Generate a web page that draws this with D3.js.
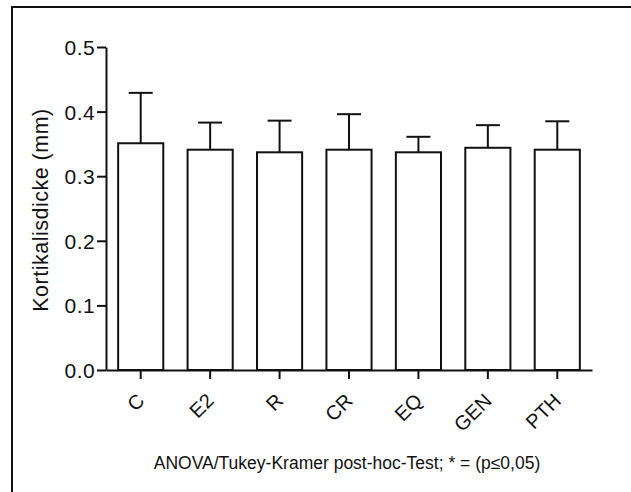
<!DOCTYPE html>
<html>
<head>
<meta charset="utf-8">
<script src="https://cdn.jsdelivr.net/npm/d3@7"></script>
<style>
  body { margin: 0; background: #fff; }
  text { font-family: "Liberation Sans", Arial, sans-serif; fill: #111; }
</style>
</head>
<body>
<div id="canvas"></div>
<script>
const canvWidth = 631, canvHeight = 492;

// data
const groups = ["C", "E2", "R", "CR", "EQ", "GEN", "PTH"];
const means = [0.351, 0.341, 0.337, 0.341, 0.337, 0.344, 0.341];
const errTops = [0.429, 0.383, 0.386, 0.396, 0.361, 0.379, 0.385];
const yTicks = [0.0, 0.1, 0.2, 0.3, 0.4, 0.5];

const yTitle = "Kortikalisdicke (mm)";
const footNote = "ANOVA/Tukey-Kramer post-hoc-Test; * = (p\u22640,05)";

const svg = d3.select("#canvas").append("svg")
    .attr("width", canvWidth)
    .attr("height", canvHeight);

// outer frame (runs off the right and bottom edges)
svg.append("rect")
    .attr("x", 12).attr("y", 7)
    .attr("width", 640).attr("height", 500)
    .attr("fill", "none")
    .attr("stroke", "#111")
    .attr("stroke-width", 2);

const margin = {top: 47, right: 39, bottom: 122, left: 106};
const width = canvWidth - margin.left - margin.right;
const height = canvHeight - margin.top - margin.bottom;

const g = svg.append("g")
    .attr("transform", "translate(" + margin.left + "," + margin.top + ")");

const x = d3.scaleBand()
    .domain(groups)
    .range([0, width])
    .paddingInner(0.35)
    .paddingOuter(0.175);

const y = d3.scaleLinear()
    .domain([0, 0.5])
    .range([height, 0]);

// error bars (upper only)
const cap = 12;
groups.forEach(function (d, i) {
    const cx = x(d) + x.bandwidth() / 2;
    g.append("line")
        .attr("x1", cx).attr("x2", cx)
        .attr("y1", y(means[i])).attr("y2", y(errTops[i]))
        .attr("stroke", "#111").attr("stroke-width", 2);
    g.append("line")
        .attr("x1", cx - cap).attr("x2", cx + cap)
        .attr("y1", y(errTops[i])).attr("y2", y(errTops[i]))
        .attr("stroke", "#111").attr("stroke-width", 2);
});

// bars
g.selectAll(".bar")
    .data(groups)
    .enter().append("rect")
    .attr("class", "bar")
    .attr("x", function (d) { return x(d); })
    .attr("y", function (d, i) { return y(means[i]); })
    .attr("width", x.bandwidth())
    .attr("height", function (d, i) { return height - y(means[i]); })
    .attr("fill", "#fff")
    .attr("stroke", "#111")
    .attr("stroke-width", 2);

// y axis
const yAxis = g.append("g")
    .call(d3.axisLeft(y).tickValues(yTicks).tickFormat(d3.format(".1f")).tickSize(9).tickSizeOuter(0));
yAxis.select(".domain").attr("stroke", "#111").attr("stroke-width", 2);
yAxis.selectAll(".tick line").attr("stroke", "#111").attr("stroke-width", 2);
yAxis.selectAll(".tick text")
    .attr("x", -11)
    .attr("dy", "0.36em")
    .style("font-size", "21px")
    .style("letter-spacing", "0.4px")
    .style("font-family", "Liberation Sans, Arial, sans-serif")
    .attr("fill", "#111");

// x axis
const xAxis = g.append("g")
    .attr("transform", "translate(0," + height + ")")
    .call(d3.axisBottom(x).tickSize(9).tickSizeOuter(0));
xAxis.select(".domain").attr("stroke", "#111").attr("stroke-width", 2);
xAxis.selectAll(".tick line").attr("stroke", "#111").attr("stroke-width", 2);
xAxis.selectAll(".tick text")
    .attr("y", 0)
    .attr("dy", 0)
    .attr("text-anchor", "end")
    .attr("transform", "translate(5,32) rotate(-45)")
    .style("font-size", "20px")
    .style("font-family", "Liberation Sans, Arial, sans-serif")
    .attr("fill", "#111");

// y title
svg.append("text")
    .attr("transform", "translate(48,210) rotate(-90)")
    .attr("text-anchor", "middle")
    .style("font-size", "21.5px")
    .style("letter-spacing", "0.5px")
    .text(yTitle);

// footnote
svg.append("text")
    .attr("x", 347)
    .attr("y", 469)
    .attr("text-anchor", "middle")
    .style("font-size", "17.5px")
    .text(footNote);
</script>
</body>
</html>
